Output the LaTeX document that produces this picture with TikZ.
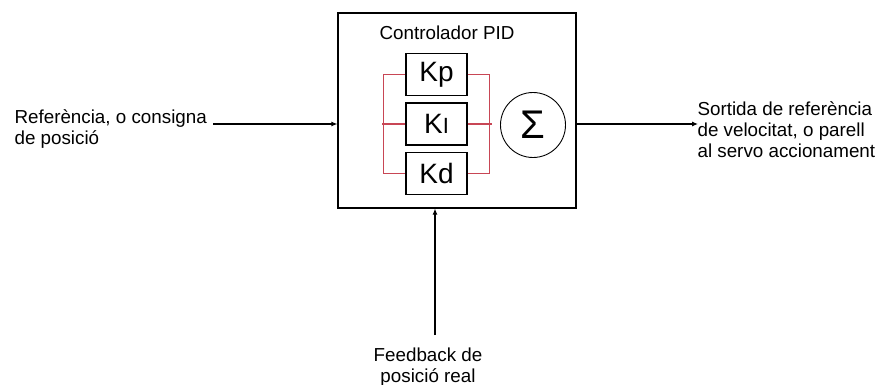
\documentclass[tikz,border=0pt]{standalone}
\usepackage{fontspec}
\setmainfont{Liberation Sans}
\usetikzlibrary{arrows.meta}
\definecolor{busred}{RGB}{200,70,85}
\begin{document}
\begin{tikzpicture}[x=1pt,y=-1pt,
  line width=1.1pt,
  lbl/.style={font=\fontsize{18.8}{20.5}\selectfont, inner sep=0pt, align=left},
  kbox/.style={draw, minimum width=61pt, minimum height=42pt, inner sep=0pt, font=\fontsize{28}{30}\selectfont},
  bus/.style={draw=busred, line width=1.4pt},
  arr/.style={-{Latex[length=6pt,width=5pt]}}]
\useasboundingbox (0,0) rectangle (877,385);
\node[draw, minimum width=238pt, minimum height=195pt, inner sep=0pt] (pid) at (457,110.5) {};
\node[lbl, anchor=base] (title) at (447,40) {Controlador PID};
\node[kbox] (kp) at (436.5,74.5) {Kp};
\node[kbox] (ki) at (436.5,124) {K{\fontsize{22}{24}\selectfont I}};
\node[kbox] (kd) at (436.5,173.5) {Kd};
\node[draw, circle, minimum size=65pt, inner sep=0pt, line width=0.9pt, font=\fontsize{40}{42}\selectfont] (sum) at (533,125) {Σ};
% red buses
\draw[bus] (kp.west) -- ++(-22,0) |- (kd.west);
\draw[bus] (ki.west) -- ++(-23,0);
\draw[bus] (kp.east) -- ++(22,0) |- (kd.east);
\draw[bus] (ki.east) -- ++(24,0);
% input
\node[lbl, anchor=base west] (intext) at (14,144) {Referència, o consigna\\de posició};
\coordinate (inS) at (213,124);
\draw[arr] (inS) -- (inS -| pid.west);
% output
\coordinate (outE) at (698,124);
\draw[arr] (pid.east |- outE) -- (outE);
\node[lbl, anchor=base west] (outtext) at (697,157) {Sortida de referència\\de velocitat, o parell\\al servo accionament};
% feedback
\coordinate (fb) at (435,335);
\draw[arr] (fb) -- (fb |- pid.south);
\node[lbl, anchor=base, align=center] (fbtext) at (428,382) {Feedback de\\posició real};
\end{tikzpicture}
\end{document}
